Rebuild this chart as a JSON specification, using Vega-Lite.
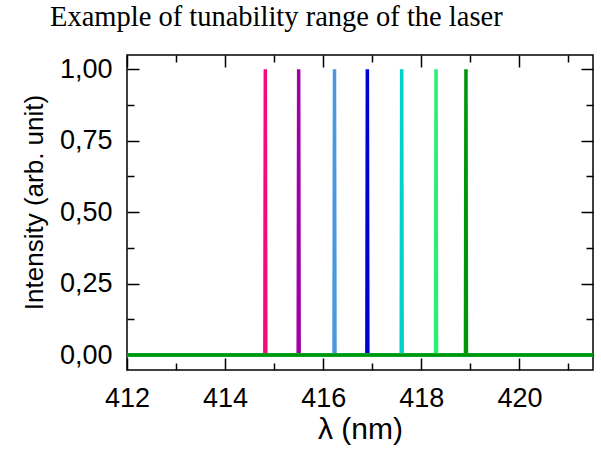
{
  "$schema": "https://vega.github.io/schema/vega-lite/v6.json",
  "width": 466,
  "height": 315,
  "autosize": {"type": "none"},
  "padding": {"left": 127, "top": 55, "right": 8, "bottom": 80},
  "background": "white",
  "title": {
    "text": "Example of tunability range of the laser",
    "anchor": "start",
    "frame": "group",
    "dx": -77,
    "dy": 27,
    "offset": 27,
    "baseline": "alphabetic",
    "font": "Liberation Serif",
    "fontSize": 28.5,
    "fontWeight": "normal",
    "color": "black"
  },
  "config": {
    "view": {"stroke": "black", "strokeWidth": 1.5},
    "axis": {
      "domain": false,
      "grid": false,
      "tickColor": "black",
      "tickWidth": 1.5,
      "labelFont": "Liberation Sans",
      "titleFont": "Liberation Sans",
      "labelFontSize": 27,
      "titleFontSize": 27,
      "titleFontWeight": "normal",
      "labelColor": "black",
      "titleColor": "black"
    }
  },
  "data": {
    "values": [
      {"s": "1", "i": 0, "x": 412, "y": 0},
      {"s": "1", "i": 1, "x": 414.81, "y": 0},
      {"s": "1", "i": 2, "x": 414.82, "y": 1},
      {"s": "1", "i": 3, "x": 414.83, "y": 0},
      {"s": "1", "i": 4, "x": 421.5, "y": 0},
      {"s": "2", "i": 0, "x": 412, "y": 0},
      {"s": "2", "i": 1, "x": 415.49, "y": 0},
      {"s": "2", "i": 2, "x": 415.5, "y": 1},
      {"s": "2", "i": 3, "x": 415.51, "y": 0},
      {"s": "2", "i": 4, "x": 421.5, "y": 0},
      {"s": "3", "i": 0, "x": 412, "y": 0},
      {"s": "3", "i": 1, "x": 416.22, "y": 0},
      {"s": "3", "i": 2, "x": 416.23, "y": 1},
      {"s": "3", "i": 3, "x": 416.24, "y": 0},
      {"s": "3", "i": 4, "x": 421.5, "y": 0},
      {"s": "4", "i": 0, "x": 412, "y": 0},
      {"s": "4", "i": 1, "x": 416.89, "y": 0},
      {"s": "4", "i": 2, "x": 416.9, "y": 1},
      {"s": "4", "i": 3, "x": 416.91, "y": 0},
      {"s": "4", "i": 4, "x": 421.5, "y": 0},
      {"s": "5", "i": 0, "x": 412, "y": 0},
      {"s": "5", "i": 1, "x": 417.59, "y": 0},
      {"s": "5", "i": 2, "x": 417.6, "y": 1},
      {"s": "5", "i": 3, "x": 417.61, "y": 0},
      {"s": "5", "i": 4, "x": 421.5, "y": 0},
      {"s": "6", "i": 0, "x": 412, "y": 0},
      {"s": "6", "i": 1, "x": 418.29, "y": 0},
      {"s": "6", "i": 2, "x": 418.3, "y": 1},
      {"s": "6", "i": 3, "x": 418.31, "y": 0},
      {"s": "6", "i": 4, "x": 421.5, "y": 0},
      {"s": "7", "i": 0, "x": 412, "y": 0},
      {"s": "7", "i": 1, "x": 418.9, "y": 0},
      {"s": "7", "i": 2, "x": 418.91, "y": 1},
      {"s": "7", "i": 3, "x": 418.92, "y": 0},
      {"s": "7", "i": 4, "x": 421.5, "y": 0}
    ]
  },
  "layer": [
    {
      "mark": {"type": "line", "strokeWidth": 3.5, "clip": true},
      "encoding": {
        "x": {
          "field": "x", "type": "quantitative",
          "scale": {"domain": [412, 421.5], "nice": false, "zero": false},
          "axis": {
            "orient": "bottom",
            "title": "λ (nm)",
            "titleFontSize": 30,
            "titleY": 68,
            "titleBaseline": "alphabetic",
            "values": [412, 413, 414, 415, 416, 417, 418, 419, 420, 421],
            "labelExpr": "datum.value % 2 === 0 ? datum.value : ''",
            "tickSize": {"condition": {"test": "datum.value % 2 === 0", "value": -12}, "value": -7},
            "labelPadding": 27,
            "labelFlush": false
          }
        },
        "y": {
          "field": "y", "type": "quantitative",
          "scale": {"domain": [-0.0525, 1.05], "nice": false, "zero": false},
          "axis": {
            "orient": "left",
            "title": "Intensity (arb. unit)",
            "titleFontSize": 26,
            "titleX": -93,
            "titleY": 147,
            "titleBaseline": "middle",
            "values": [0, 0.125, 0.25, 0.375, 0.5, 0.625, 0.75, 0.875, 1],
            "labelExpr": "datum.value * 4 % 1 === 0 ? replace(format(datum.value, '.2f'), '.', ',') : ''",
            "tickSize": {"condition": {"test": "datum.value * 4 % 1 === 0", "value": -12}, "value": -7},
            "labelPadding": 27,
            "labelFlush": false
          }
        },
        "color": {
          "field": "s", "type": "nominal", "legend": null,
          "scale": {
            "domain": ["1", "2", "3", "4", "5", "6", "7"],
            "range": ["#f8087f", "#a000a8", "#4a98e0", "#0000d8", "#00d0d0", "#28f070", "#00960a"]
          }
        },
        "order": {"field": "i", "type": "quantitative"}
      }
    },
    {
      "mark": {"type": "point", "opacity": 0},
      "encoding": {
        "x": {
          "field": "x", "type": "quantitative",
          "axis": {
            "orient": "top", "title": null, "labels": false,
            "values": [412, 413, 414, 415, 416, 417, 418, 419, 420, 421],
            "tickSize": {"condition": {"test": "datum.value % 2 === 0", "value": -12}, "value": -7}
          }
        },
        "y": {
          "field": "y", "type": "quantitative",
          "axis": {
            "orient": "right", "title": null, "labels": false,
            "values": [0, 0.125, 0.25, 0.375, 0.5, 0.625, 0.75, 0.875, 1],
            "tickSize": {"condition": {"test": "datum.value * 4 % 1 === 0", "value": -12}, "value": -7}
          }
        }
      }
    }
  ],
  "resolve": {"axis": {"x": "independent", "y": "independent"}}
}
